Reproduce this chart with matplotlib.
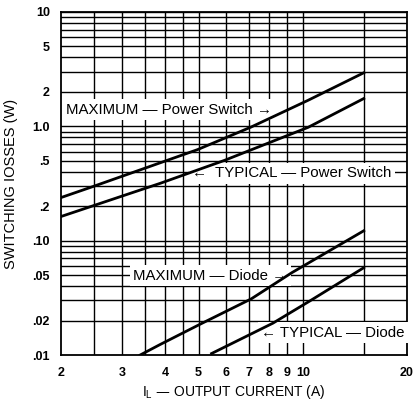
import numpy as np
import matplotlib.pyplot as plt
from matplotlib.ticker import FixedLocator, NullLocator

plt.rcParams["font.family"] = ["Liberation Sans", "DejaVu Sans"]

# curves (x = output current A, y = losses W)
ps_max_x = [2, 2.48, 4.96, 7.09, 10.36, 15]
ps_max_y = [0.238, 0.298, 0.625, 0.986, 1.69, 2.94]
ps_typ_x = [2, 3.88, 5.93, 10.36, 15]
ps_typ_y = [0.1625, 0.318, 0.503, 0.98, 1.75]
d_max_x = [3.39, 3.88, 5.07, 7.1, 9.3, 15]
d_max_y = [0.01, 0.0124, 0.0187, 0.031, 0.0525, 0.122]
d_typ_x = [5.45, 8.2, 10.5, 15]
d_typ_y = [0.0103, 0.019, 0.0298, 0.058]

x_ticks = [2, 3, 4, 5, 6, 7, 8, 9, 10, 20]
x_ticklabels = ["2", "3", "4", "5", "6", "7", "8", "9", "10", "20"]
x_grid = [2.5, 3, 3.5, 4, 4.5, 5, 6, 7, 8, 9, 10, 15]
y_ticks = [0.01, 0.02, 0.05, 0.1, 0.2, 0.5, 1, 2, 5, 10]
y_ticklabels = [".01", ".02", ".05", ".10", ".2", ".5", "1.0", "2", "5", "10"]

fig = plt.figure(figsize=(4.17, 4.0), dpi=100)
ax = fig.add_axes([0.146, 0.1125, 0.83, 0.8575])
ax.set_xscale("log")
ax.set_yscale("log")
ax.set_xlim(2, 20)
ax.set_ylim(0.01, 10)

# grid
for gx in x_grid:
    ax.axvline(gx, color="black", lw=1.0, zorder=1)
for dec in [0.01, 0.1, 1]:
    for m in range(2, 11):
        ax.axhline(dec * m, color="black", lw=1.0, zorder=1)

for xs, ys in [(ps_max_x, ps_max_y), (ps_typ_x, ps_typ_y), (d_max_x, d_max_y), (d_typ_x, d_typ_y)]:
    ax.plot(xs, ys, color="black", lw=2.0, zorder=5)

ax.xaxis.set_major_locator(FixedLocator(x_ticks))
ax.xaxis.set_minor_locator(NullLocator())
ax.set_xticklabels(x_ticklabels)
ax.yaxis.set_major_locator(FixedLocator(y_ticks))
ax.yaxis.set_minor_locator(NullLocator())
ax.set_yticklabels(y_ticklabels)
ax.tick_params(axis="both", length=0, labelsize=9)
ax.tick_params(axis="x", pad=9)
ax.tick_params(axis="y", pad=8)
for lab in ax.get_xticklabels() + ax.get_yticklabels():
    lab.set_fontweight("bold")
for s in ax.spines.values():
    s.set_linewidth(1.3)

box = dict(facecolor="white", edgecolor="none", pad=2.5)
fs = 10.8
ax.text(2.07, 1.40, "MAXIMUM \u2014 Power Switch \u2192", fontsize=fs, ha="left", va="center", bbox=box, zorder=4)
ax.text(4.8, 0.387, "\u2190  TYPICAL \u2014 Power Switch", fontsize=fs, ha="left", va="center", bbox=box, zorder=4)
ax.text(3.24, 0.0493, "MAXIMUM \u2014 Diode \u2192", fontsize=fs, ha="left", va="center", bbox=box, zorder=4)
ax.text(7.58, 0.0156, "\u2190 TYPICAL \u2014 Diode", fontsize=fs, ha="left", va="center", bbox=box, zorder=4)

ax.set_ylabel("SWITCHING IOSSES (W)", fontsize=10.5)
ax.yaxis.set_label_coords(-0.124, 0.5)
ax.set_xlabel("I$_\\mathregular{L}$ \u2014 OUTPUT CURRENT (A)", fontsize=10)
ax.xaxis.set_label_coords(0.5, -0.082)

fig.savefig("out.png", dpi=100)
